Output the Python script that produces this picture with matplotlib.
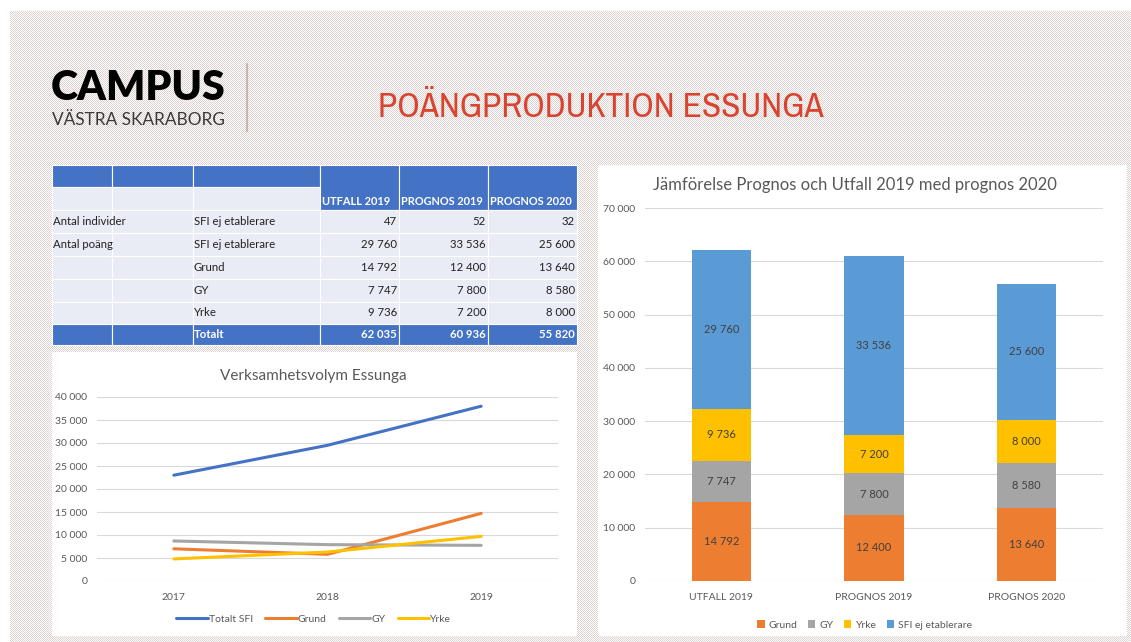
import numpy as np
import matplotlib
matplotlib.use("Agg")
import matplotlib.pyplot as plt
from matplotlib import font_manager
from matplotlib.patches import Rectangle
from matplotlib.ticker import FuncFormatter

# ---- data ----
years = ["2017", "2018", "2019"]
line_names = ["Totalt SFI", "Grund", "GY", "Yrke"]
totalt_sfi = [23000, 29500, 38000]
grund_line = [7000, 5800, 14700]
gy_line = [8700, 7900, 7750]
yrke_line = [4800, 6300, 9700]

bar_cats = ["UTFALL 2019", "PROGNOS 2019", "PROGNOS 2020"]
bar_names = ["Grund", "GY", "Yrke", "SFI ej etablerare"]
grund = [14792, 12400, 13640]
gy = [7747, 7800, 8580]
yrke = [9736, 7200, 8000]
sfi = [29760, 33536, 25600]

table_cols = ["UTFALL 2019", "PROGNOS 2019", "PROGNOS 2020"]
table_group = ["Antal individer", "Antal poäng", "", "", ""]
table_rows = ["SFI ej etablerare", "SFI ej etablerare", "Grund", "GY", "Yrke"]
table_vals = [[47, 52, 32],
              [29760, 33536, 25600],
              [14792, 12400, 13640],
              [7747, 7800, 8580],
              [9736, 7200, 8000]]
totals = [62035, 60936, 55820]

W, H = 1131, 642
c_blue, c_orange, c_gray, c_yellow, c_lblue = "#4472c4", "#ed7d31", "#a5a5a5", "#ffc000", "#5b9bd5"
tick_col = "#595959"
font = ["Lato", "DejaVu Sans"]
plt.rcParams['font.family'] = font

# look for a narrow font for the slide title
installed = sorted({f.name for f in font_manager.fontManager.ttflist})
narrow = [n for n in installed if "Narrow" in n or "Condensed" in n]
title_font = narrow[:1] + ["DejaVu Sans"]


def fmt(v):
    return f"{int(round(v)):,}".replace(",", " ")


def rect(x0, y0, x1, y1):
    return [x0 / W, 1 - y1 / H, (x1 - x0) / W, (y1 - y0) / H]


fig = plt.figure(figsize=(W / 100, H / 100), dpi=100)

# background with dotted pattern
bg = fig.add_axes([0, 0, 1, 1])
yy, xx = np.mgrid[0:H, 0:W]
dots = (xx + yy) % 2 == 0
img = np.ones((H, W, 3))
img[dots] = np.array([0xdd, 0xd2, 0xcf]) / 255
img[:11, :] = 1
img[:, :10] = 1
bg.imshow(img, interpolation="nearest", extent=[0, W, H, 0], aspect="auto")
bg.set_xlim(0, W)
bg.set_ylim(H, 0)
bg.axis("off")

# panels
bg.add_patch(Rectangle((52, 352), 525, 284, facecolor="white", edgecolor="none"))
bg.add_patch(Rectangle((598, 165), 529, 471, facecolor="white", edgecolor="none"))

# logo + title
bg.text(51, 100, "CAMPUS", fontsize=29.5, fontweight="heavy", color="black", family=font)
bg.text(52, 125, "VÄSTRA SKARABORG", fontsize=12.4, color="#3a3a3a", family=font)
bg.plot([247, 247], [64, 131], color="#c9a9a0", lw=1.2)
title = bg.text(378, 117, "POÄNGPRODUKTION ESSUNGA", fontsize=30, color="#d9432f",
                family=title_font, fontstretch="condensed")
fig.canvas.draw()
tw = title.get_window_extent().width
if tw > 455:
    title.set_fontsize(30 * 444 / tw)

# ---- table ----
xe = [52, 112, 193, 320, 399, 488, 577]
ye = [165, 187, 210, 233, 256, 279, 302, 324, 345]
hdr = "#4472c4"
light = "#e9ebf5"
for i in range(6):
    if i < 3:
        bg.add_patch(Rectangle((xe[i], ye[0]), xe[i + 1] - xe[i], ye[1] - ye[0], facecolor=hdr, edgecolor="white", lw=0.8))
        bg.add_patch(Rectangle((xe[i], ye[1]), xe[i + 1] - xe[i], ye[2] - ye[1], facecolor=light, edgecolor="white", lw=0.8))
    else:
        bg.add_patch(Rectangle((xe[i], ye[0]), xe[i + 1] - xe[i], ye[2] - ye[0], facecolor=hdr, edgecolor="white", lw=0.8))
        bg.text(xe[i] + 2, ye[2] - 3, table_cols[i - 3], fontsize=7.9, fontweight="bold",
                color="white", ha="left", va="bottom")
for r in range(5):
    y0, y1 = ye[r + 2], ye[r + 3]
    for i in range(6):
        bg.add_patch(Rectangle((xe[i], y0), xe[i + 1] - xe[i], y1 - y0, facecolor=light, edgecolor="white", lw=0.8))
    ym = (y0 + y1) / 2
    bg.text(xe[0] + 1, ym, table_group[r], fontsize=8.2, color="#222222", va="center")
    bg.text(xe[2] + 1, ym, table_rows[r], fontsize=8.2, color="#222222", va="center")
    for j in range(3):
        bg.text(xe[j + 4] - 2, ym, fmt(table_vals[r][j]), fontsize=8.2, color="#222222", va="center", ha="right")
y0, y1 = ye[7], ye[8]
for i in range(6):
    bg.add_patch(Rectangle((xe[i], y0), xe[i + 1] - xe[i], y1 - y0, facecolor=hdr, edgecolor="white", lw=0.8))
ym = (y0 + y1) / 2
bg.text(xe[2] + 1, ym, "Totalt", fontsize=8.2, fontweight="bold", color="white", va="center")
for j in range(3):
    bg.text(xe[j + 4] - 2, ym, fmt(totals[j]), fontsize=8.2, fontweight="bold", color="white", va="center", ha="right")

# ---- line chart ----
ax1 = fig.add_axes(rect(97, 397, 558, 581))
ax1.set_facecolor("none")
xs = np.arange(len(years))
for vals, name, col in zip([totalt_sfi, grund_line, gy_line, yrke_line], line_names,
                           [c_blue, c_orange, c_gray, c_yellow]):
    ax1.plot(xs, vals, color=col, lw=2.2, label=name, solid_capstyle="round")
ax1.set_xlim(-0.5, 2.5)
ax1.set_ylim(0, 40000)
ax1.set_yticks(range(0, 40001, 5000))
ax1.yaxis.set_major_formatter(FuncFormatter(lambda v, p: fmt(v)))
ax1.set_xticks(xs)
ax1.set_xticklabels(years)
ax1.grid(axis="y", color="#d9d9d9", lw=0.8)
ax1.set_axisbelow(True)
for s in ax1.spines.values():
    s.set_visible(False)
ax1.tick_params(length=0, labelsize=7.5, labelcolor=tick_col, pad=7)
ax1.tick_params(axis="x", pad=9)
bg.text(313, 376, "Verksamhetsvolym Essunga", fontsize=11, color="#595959", ha="center", va="center")
ax1.legend(loc="upper center", bbox_to_anchor=(0.47, -0.13), ncol=4, frameon=False,
           fontsize=7.5, labelcolor=tick_col, handlelength=3.0, handletextpad=0.1, columnspacing=1.2)

# ---- stacked bar chart ----
ax2 = fig.add_axes(rect(645, 208, 1103, 581))
ax2.set_facecolor("none")
xb = np.arange(len(bar_cats))
bottom = np.zeros(3)
for vals, name, col in zip([grund, gy, yrke, sfi], bar_names, [c_orange, c_gray, c_yellow, c_lblue]):
    bars = ax2.bar(xb, vals, 0.39, bottom=bottom, color=col, label=name, zorder=3)
    for b, v, bt in zip(bars, vals, bottom):
        ax2.text(b.get_x() + b.get_width() / 2, bt + v / 2, fmt(v), ha="center", va="center",
                 fontsize=8, color="#404040", zorder=4)
    bottom = bottom + np.array(vals)
ax2.set_xlim(-0.5, 2.5)
ax2.set_ylim(0, 70000)
ax2.set_yticks(range(0, 70001, 10000))
ax2.yaxis.set_major_formatter(FuncFormatter(lambda v, p: fmt(v)))
ax2.set_xticks(xb)
ax2.set_xticklabels(bar_cats)
ax2.grid(axis="y", color="#d9d9d9", lw=0.8)
ax2.set_axisbelow(True)
for s in ax2.spines.values():
    s.set_visible(False)
ax2.tick_params(length=0, labelsize=7.5, labelcolor=tick_col, pad=7)
ax2.tick_params(axis="x", pad=9)
bg.text(855, 185, "Jämförelse Prognos och Utfall 2019 med prognos 2020", fontsize=12,
        color="#595959", ha="center", va="center")
ax2.legend(loc="upper center", bbox_to_anchor=(0.48, -0.08), ncol=4, frameon=False,
           fontsize=7.5, labelcolor=tick_col, handlelength=0.7, handleheight=0.7,
           handletextpad=0.4, columnspacing=1.0)

fig.savefig("out.png", dpi=100)
